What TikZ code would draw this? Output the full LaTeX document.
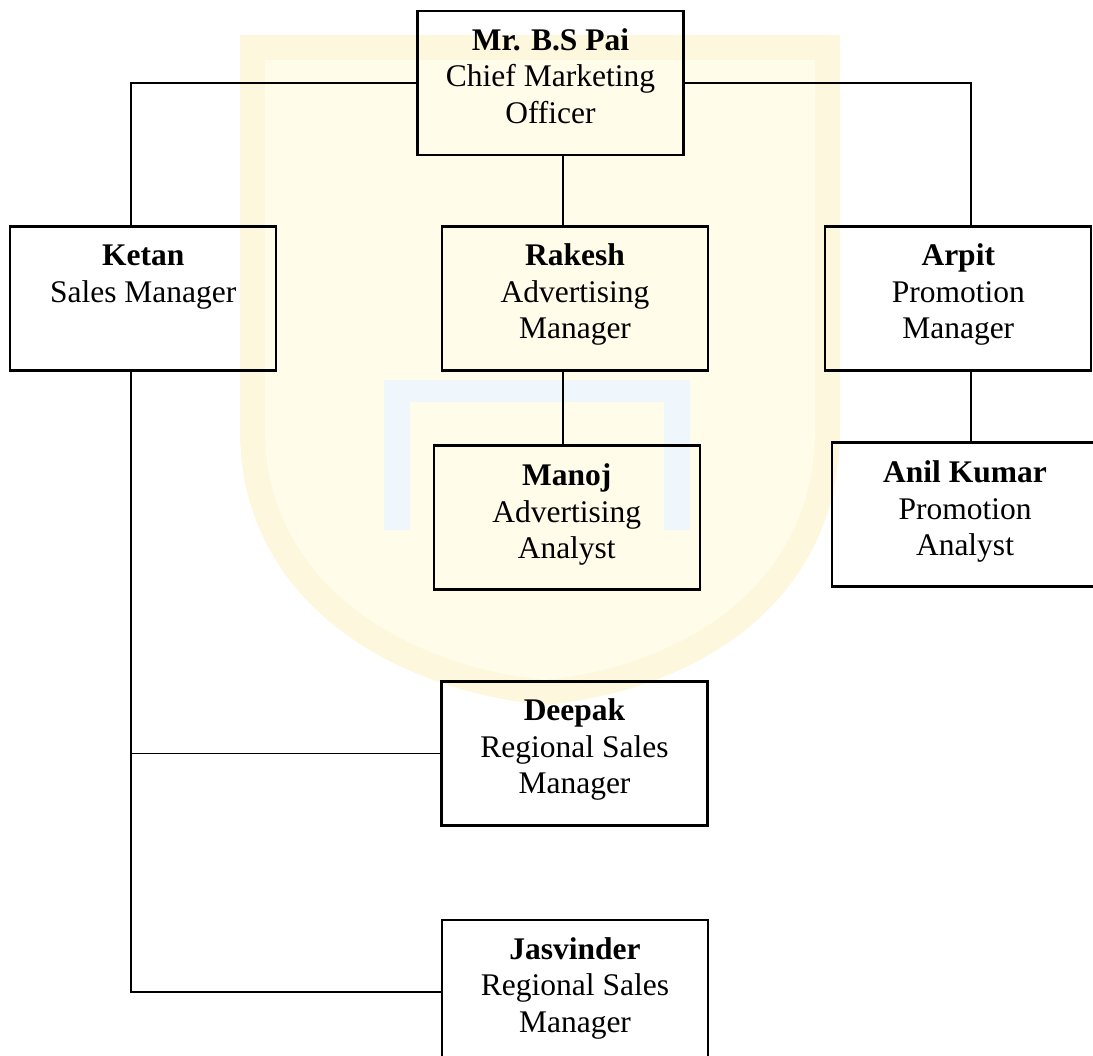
\documentclass[tikz,border=0pt]{standalone}
\usepackage{fontspec}
\setmainfont{Liberation Serif}
\definecolor{wmyellow}{RGB}{255,252,234}
\definecolor{wmedge}{RGB}{253,247,222}
\definecolor{wmblue}{RGB}{240,247,252}
\begin{document}
\begin{tikzpicture}[x=1pt,y=-1pt,
  box/.style={draw=black, line width=2.2pt, minimum width=266pt, minimum height=144pt, inner sep=0pt},
  lbl/.style={anchor=north, align=center, inner sep=0pt, font=\fontsize{31.5}{36.5}\selectfont},
  conn/.style={draw=black, line width=1.7pt}]
\useasboundingbox (0,0) rectangle (1093,1056);
\clip (0,0) rectangle (1093,1056);
% faint watermark
\fill[wmedge] (240,35) -- (840,35) -- (840,430) .. controls (840,600) and (700,690) .. (545,705) .. controls (390,690) and (240,600) .. (240,430) -- cycle;
\fill[wmyellow] (265,60) -- (815,60) -- (815,430) .. controls (815,580) and (690,665) .. (545,680) .. controls (400,665) and (265,580) .. (265,430) -- cycle;
\fill[wmblue] (384,380) rectangle (690,402);
\fill[wmblue] (384,380) rectangle (410,530);
\fill[wmblue] (664,380) rectangle (690,530);
% boxes
\node[box] (cmo) at (550.5,83) {};
\node[box] (ketan) at (143.25,298.5) {};
\node[box] (rakesh) at (575,298.5) {};
\node[box] (arpit) at (958.25,298.5) {};
\node[box] (manoj) at (566.75,517.5) {};
\node[box] (anil) at (965,514.5) {};
\node[box] (deepak) at (574.5,753.5) {};
\node[box] (jas) at (575,992) {};
% labels
\node[lbl] (cmot) at ([yshift=-14.5pt]cmo.north) {\strut\textbf{Mr. B.S Pai}\\Chief Marketing\\Officer};
\node[lbl] (ketant) at ([yshift=-14.5pt]ketan.north) {\strut\textbf{Ketan}\\Sales Manager};
\node[lbl] (rakesht) at ([yshift=-14.5pt]rakesh.north) {\strut\textbf{Rakesh}\\Advertising\\Manager};
\node[lbl] (arpitt) at ([yshift=-14.5pt]arpit.north) {\strut\textbf{Arpit}\\Promotion\\Manager};
\node[lbl] (manojt) at ([yshift=-15.5pt]manoj.north) {\strut\textbf{Manoj}\\Advertising\\Analyst};
\node[lbl] (anilt) at ([yshift=-15.5pt]anil.north) {\strut\textbf{Anil Kumar}\\Promotion\\Analyst};
\node[lbl] (deepakt) at ([yshift=-14.5pt]deepak.north) {\strut\textbf{Deepak}\\Regional Sales\\Manager};
\node[lbl] (jast) at ([yshift=-14.5pt]jas.north) {\strut\textbf{Jasvinder}\\Regional Sales\\Manager};
% connectors
\draw[conn] (cmo.west) -| ([xshift=-12.25pt]ketan.north);
\draw[conn] (cmo.east) -| ([xshift=12.75pt]arpit.north);
\draw[conn] ([xshift=12.5pt]cmo.south) -- ([xshift=12.5pt]cmo.south |- rakesh.north);
\draw[conn] ([xshift=-12pt]rakesh.south) -- ([xshift=-12pt]rakesh.south |- manoj.north);
\draw[conn] ([xshift=12.75pt]arpit.south) -- ([xshift=12.75pt]arpit.south |- anil.north);
\draw[conn] ([xshift=-12.25pt]ketan.south) |- (jas.west);
\draw[conn] ([xshift=-12.25pt]ketan.south |- deepak.west) -- (deepak.west);
\end{tikzpicture}
\end{document}
